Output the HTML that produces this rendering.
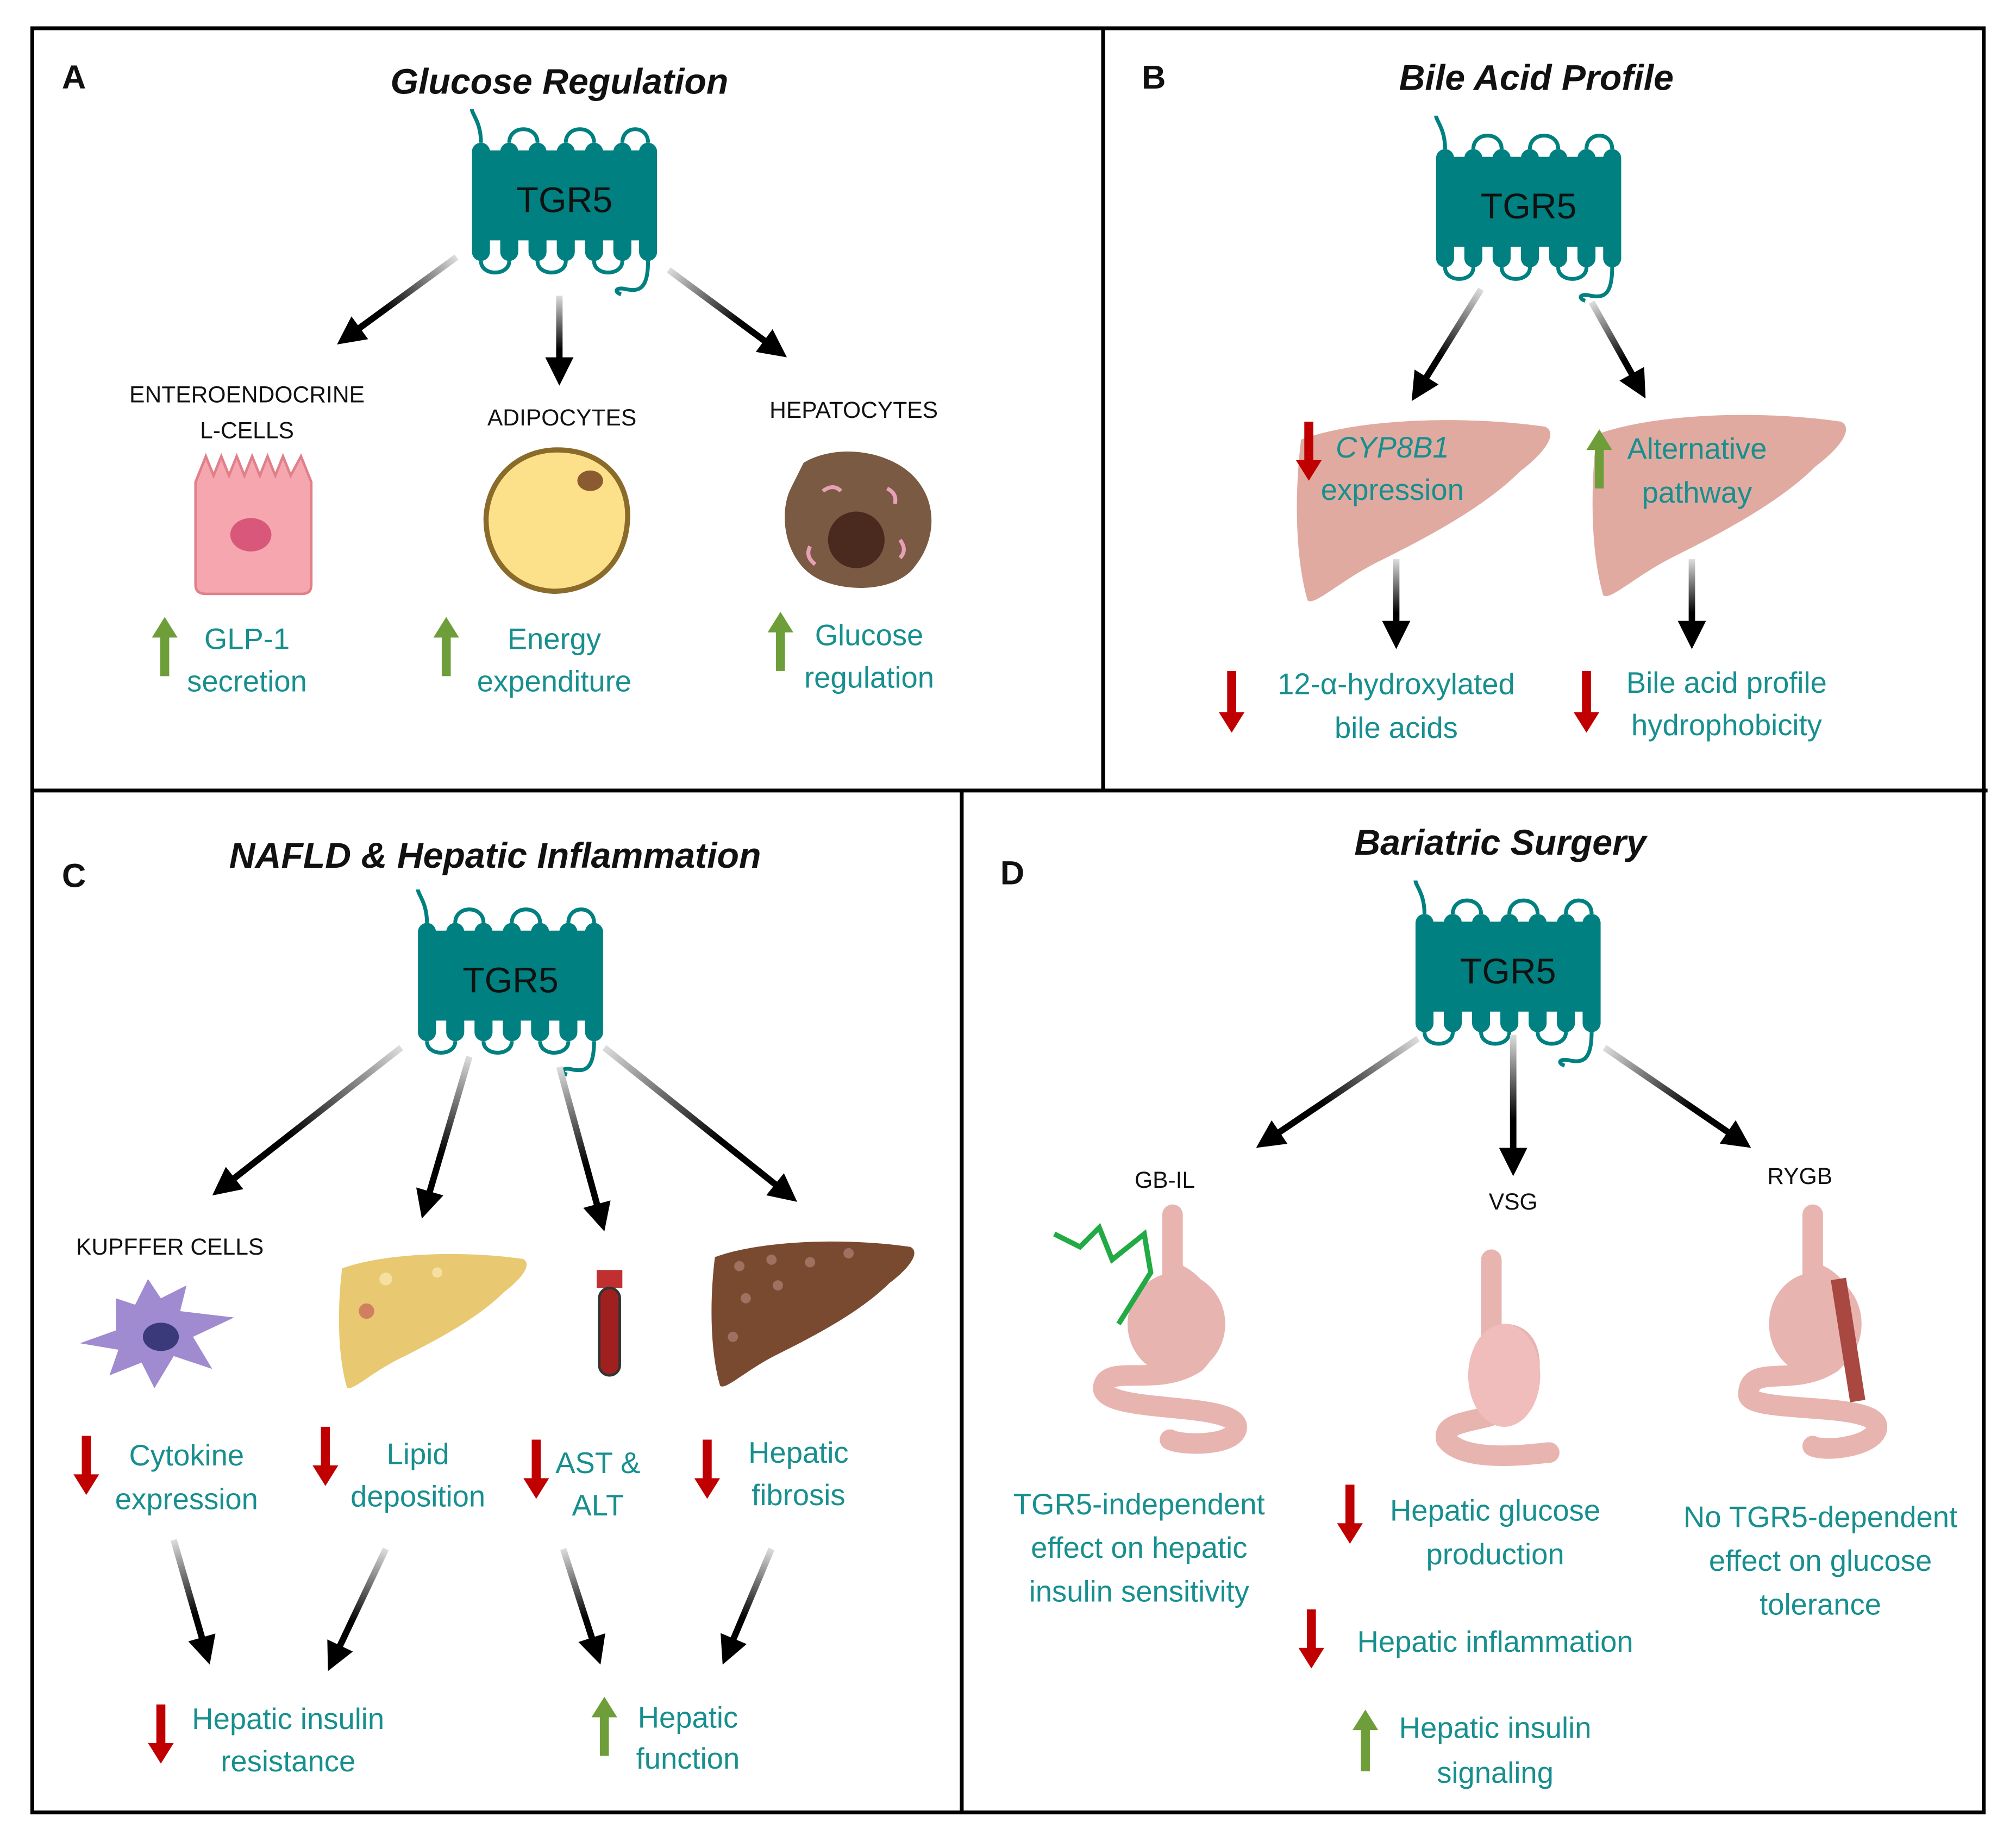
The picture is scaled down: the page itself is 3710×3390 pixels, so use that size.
<!DOCTYPE html>
<html><head><meta charset="utf-8">
<style>
html,body{margin:0;padding:0;background:#fff;}
svg{display:block;}
text{font-family:"Liberation Sans",sans-serif;}
.t{fill:#188f8f;font-size:23px;text-anchor:middle;}
.h{font-weight:bold;font-style:italic;font-size:28px;text-anchor:middle;fill:#111;}
.l{font-weight:bold;font-size:26px;fill:#111;}
.s{font-size:18px;text-anchor:middle;fill:#111;}
</style></head>
<body>
<svg id="sv" width="3710" height="3390" viewBox="0 0 1568 1433" xmlns="http://www.w3.org/2000/svg">
<defs>
<g id="tgr">
<rect x="-62" y="-38" width="124" height="70" fill="#008080"/>
<g fill="#008080">
<rect x="-70" y="-44" width="14" height="92" rx="7"/>
<rect x="-48" y="-44" width="14" height="92" rx="7"/>
<rect x="-26" y="-44" width="14" height="92" rx="7"/>
<rect x="-4" y="-44" width="14" height="92" rx="7"/>
<rect x="18" y="-44" width="14" height="92" rx="7"/>
<rect x="40" y="-44" width="14" height="92" rx="7"/>
<rect x="60" y="-44" width="14" height="92" rx="7"/>
</g>
<g fill="none" stroke="#008080" stroke-width="3">
<path d="M-63,-44 C-63,-60 -70,-66 -70,-70 M-41,-44 C-41,-58 -19,-58 -19,-44 M3,-44 C3,-58 25,-58 25,-44 M47,-44 C47,-58 67,-58 67,-44"/>
<path d="M-63,48 C-63,60 -41,60 -41,48 M-19,48 C-19,60 3,60 3,48 M25,48 C25,60 47,60 47,48 M67,48 C67,70 60,72 50,70 C42,68 40,72 46,74"/>
</g>
<text x="2" y="10" font-size="28" text-anchor="middle" fill="#111">TGR5</text>
</g>
<path id="liv" d="M0,20 C40,5 120,0 190,10 C200,15 190,30 170,45 C140,75 90,100 60,115 C30,130 10,150 5,145 C-5,110 -5,60 0,20 Z"/>
</defs>
<g id="g">
<rect x="25" y="22" width="1518" height="1388" fill="none" stroke="#000" stroke-width="3"/>
<line x1="25" y1="615" x2="1546" y2="615" stroke="#000" stroke-width="3"/>
<line x1="858" y1="22" x2="858" y2="615" stroke="#000" stroke-width="3"/>
<line x1="748" y1="615" x2="748" y2="1410" stroke="#000" stroke-width="3"/>

<text class="l" x="48" y="69">A</text>
<text class="l" x="888" y="69">B</text>
<text class="l" x="48" y="690">C</text>
<text class="l" x="778" y="688">D</text>
<text class="h" x="435" y="73">Glucose Regulation</text>
<text class="h" x="1195" y="70">Bile Acid Profile</text>
<text class="h" x="385" y="675">NAFLD &amp; Hepatic Inflammation</text>
<text class="h" x="1167" y="665">Bariatric Surgery</text>

<use href="#tgr" x="437" y="155"/>
<use href="#tgr" x="1187" y="160"/>
<use href="#tgr" x="395" y="762"/>
<use href="#tgr" x="1171" y="755"/>

<text class="s" x="192" y="313">ENTEROENDOCRINE</text>
<text class="s" x="192" y="341">L-CELLS</text>
<text class="s" x="437" y="331">ADIPOCYTES</text>
<text class="s" x="664" y="325">HEPATOCYTES</text>
<text class="s" x="132" y="976">KUPFFER CELLS</text>
<text class="s" x="906" y="924">GB-IL</text>
<text class="s" x="1177" y="941">VSG</text>
<text class="s" x="1400" y="921">RYGB</text>

<path d="M152,375 L160,355 L166,370 L172,355 L178,370 L184,355 L190,370 L196,355 L202,370 L208,355 L214,370 L220,355 L226,370 L234,355 L242,375 L242,455 Q242,462 235,462 L160,462 Q152,462 152,455 Z" fill="#f6a6ae" stroke="#e0808a" stroke-width="2"/>
<ellipse cx="195" cy="416" rx="16" ry="13" fill="#d9577a"/>
<path d="M433,350 C470,350 490,375 488,405 C486,440 460,460 430,460 C395,458 377,430 378,402 C380,370 405,350 433,350 Z" fill="#fde08a" stroke="#8a6b2a" stroke-width="4"/>
<ellipse cx="459" cy="374" rx="10" ry="8" fill="#8a5a30"/>
<path d="M625,360 C650,345 690,350 710,370 C730,390 728,420 712,440 C700,458 665,462 640,452 C610,440 605,400 615,380 Z" fill="#7a5a42"/>
<circle cx="666" cy="420" r="22" fill="#4a2a1e"/>
<path d="M640,382 q8,-6 14,0 M690,380 q8,4 6,12 M700,420 q6,8 0,14 M630,425 q-4,8 4,14" stroke="#e8a0b8" stroke-width="3" fill="none"/>

<use href="#liv" x="1012" y="322" fill="#e0aaa0"/>
<use href="#liv" x="1242" y="318" fill="#e0aaa0"/>

<path d="M90,1010 L105,1015 L115,995 L125,1010 L145,1000 L140,1020 L182,1025 L150,1040 L165,1065 L135,1055 L120,1080 L110,1060 L85,1070 L92,1050 L62,1045 L90,1035 Z" fill="#a08ad0"/>
<ellipse cx="125" cy="1040" rx="14" ry="11" fill="#3a3a7a"/>
<use href="#liv" transform="translate(266,972) scale(0.74)" fill="#e8c870"/>
<circle cx="300" cy="995" r="5" fill="#f5e0a0"/><circle cx="340" cy="990" r="4" fill="#f5e0a0"/><circle cx="285" cy="1020" r="6" fill="#d08060"/>
<rect x="464" y="988" width="20" height="14" fill="#c03030"/>
<rect x="466" y="1002" width="16" height="68" rx="8" fill="#a02020" stroke="#333" stroke-width="2"/>
<use href="#liv" transform="translate(556,962) scale(0.8)" fill="#7a4a30"/>
<g fill="#a07060"><circle cx="575" cy="985" r="4"/><circle cx="600" cy="980" r="4"/><circle cx="630" cy="982" r="4"/><circle cx="580" cy="1010" r="4"/><circle cx="605" cy="1000" r="4"/><circle cx="570" cy="1040" r="4"/><circle cx="660" cy="975" r="4"/></g>

<g fill="none" stroke="#e8b4b0" stroke-width="16" stroke-linecap="round">
<path d="M912,945 L912,990 C940,1000 950,1040 930,1060 C900,1080 860,1060 858,1080 C860,1100 960,1090 962,1110 C962,1125 920,1125 910,1120"/>
<path d="M1160,980 L1160,1040 C1190,1030 1195,1060 1185,1085 C1170,1110 1120,1100 1125,1120 C1140,1140 1200,1130 1205,1130"/>
<path d="M1410,945 L1410,990 C1440,1000 1445,1040 1425,1060 C1395,1080 1360,1060 1360,1085 C1360,1100 1460,1090 1460,1110 C1460,1125 1420,1130 1410,1125"/>
</g>
<ellipse cx="915" cy="1030" rx="38" ry="40" fill="#e8b4b0"/>
<ellipse cx="1170" cy="1070" rx="28" ry="40" fill="#f0bcbc"/>
<ellipse cx="1412" cy="1030" rx="36" ry="40" fill="#e8b4b0"/>
<path d="M1430,995 L1445,1090" stroke="#a84840" stroke-width="12"/>
<path d="M820,960 l20,10 l15,-15 l10,25 l25,-20 l5,30 l-25,40" stroke="#22aa44" stroke-width="4" fill="none"/>

<g class="t">
<text class="t" x="192" y="505">GLP-1</text><text class="t" x="192" y="538">secretion</text>
<text class="t" x="431" y="505">Energy</text><text class="t" x="431" y="538">expenditure</text>
<text class="t" x="676" y="502">Glucose</text><text class="t" x="676" y="535">regulation</text>
<text class="t" x="1083" y="356" font-style="italic">CYP8B1</text><text class="t" x="1083" y="389">expression</text>
<text class="t" x="1320" y="357">Alternative</text><text class="t" x="1320" y="391">pathway</text>
<text class="t" x="1086" y="540">12-α-hydroxylated</text><text class="t" x="1086" y="574">bile acids</text>
<text class="t" x="1343" y="539">Bile acid profile</text><text class="t" x="1343" y="572">hydrophobicity</text>
<text class="t" x="145" y="1140">Cytokine</text><text class="t" x="145" y="1174">expression</text>
<text class="t" x="325" y="1139">Lipid</text><text class="t" x="325" y="1172">deposition</text>
<text class="t" x="465" y="1146">AST &amp;</text><text class="t" x="465" y="1179">ALT</text>
<text class="t" x="621" y="1138">Hepatic</text><text class="t" x="621" y="1171">fibrosis</text>
<text class="t" x="224" y="1345">Hepatic insulin</text><text class="t" x="224" y="1378">resistance</text>
<text class="t" x="535" y="1344">Hepatic</text><text class="t" x="535" y="1376">function</text>
<text class="t" x="886" y="1178">TGR5-independent</text><text class="t" x="886" y="1212">effect on hepatic</text><text class="t" x="886" y="1246">insulin sensitivity</text>
<text class="t" x="1163" y="1183">Hepatic glucose</text><text class="t" x="1163" y="1217">production</text>
<text class="t" x="1163" y="1285">Hepatic inflammation</text>
<text class="t" x="1163" y="1352">Hepatic insulin</text><text class="t" x="1163" y="1387">signaling</text>
<text class="t" x="1416" y="1188">No TGR5-dependent</text><text class="t" x="1416" y="1222">effect on glucose</text><text class="t" x="1416" y="1256">tolerance</text>
</g>
</g>
</svg>
<script>
var sv=document.getElementById('g'),NS='http://www.w3.org/2000/svg',defs=document.querySelector('defs');
var A=[[355,200,262,268],[435,230,435,300],[520,210,612,278],[1152,225,1098,312],[1238,235,1280,310],[1086,435,1086,505],[1316,435,1316,505],
[312,815,165,930],[365,822,328,948],[435,830,470,958],[470,815,620,935],[135,1198,163,1295],[300,1205,255,1300],[438,1205,467,1295],[600,1205,562,1295],
[1103,808,977,893],[1177,805,1177,915],[1248,815,1362,893]];
A.forEach(function(a,i){var g=document.createElementNS(NS,'linearGradient');g.id='gr'+i;g.setAttribute('gradientUnits','userSpaceOnUse');
g.setAttribute('x1',a[0]);g.setAttribute('y1',a[1]);g.setAttribute('x2',a[2]);g.setAttribute('y2',a[3]);
g.innerHTML='<stop offset="0" stop-color="#ddd"/><stop offset="0.6" stop-color="#000"/>';defs.appendChild(g);
var dx=a[2]-a[0],dy=a[3]-a[1],L=Math.hypot(dx,dy),ux=dx/L,uy=dy/L;
var l=document.createElementNS(NS,'line');l.setAttribute('x1',a[0]);l.setAttribute('y1',a[1]);l.setAttribute('x2',a[2]-ux*14);l.setAttribute('y2',a[3]-uy*14);
l.setAttribute('stroke','url(#gr'+i+')');l.setAttribute('stroke-width',5);sv.appendChild(l);
var p=document.createElementNS(NS,'path'),px=-uy,py=ux,bx=a[2]-ux*22,by=a[3]-uy*22;
p.setAttribute('d','M'+a[2]+','+a[3]+' L'+(bx+px*11)+','+(by+py*11)+' L'+(bx-px*11)+','+(by-py*11)+'Z');sv.appendChild(p);});
var C=[[128,480,526,1],[347,480,526,1],[607,476,522,1],[1018,328,374,0],[1244,334,380,1],[958,522,570,0],[1234,522,570,0],
[67,1117,1163,0],[253,1110,1156,0],[417,1120,1166,0],[550,1120,1166,0],[125,1326,1372,0],[470,1320,1366,1],
[1050,1155,1201,0],[1020,1252,1298,0],[1062,1330,1378,1]];
C.forEach(function(c){var x=c[0],t=c[1],b=c[2],p=document.createElementNS(NS,'path'),d;
if(c[3]){d='M'+x+','+t+' L'+(x+10)+','+(t+16)+' L'+(x+3.5)+','+(t+16)+' L'+(x+3.5)+','+b+' L'+(x-3.5)+','+b+' L'+(x-3.5)+','+(t+16)+' L'+(x-10)+','+(t+16)+'Z';p.setAttribute('fill','#6e9e3a');}
else{d='M'+x+','+b+' L'+(x+10)+','+(b-16)+' L'+(x+3.5)+','+(b-16)+' L'+(x+3.5)+','+t+' L'+(x-3.5)+','+t+' L'+(x-3.5)+','+(b-16)+' L'+(x-10)+','+(b-16)+'Z';p.setAttribute('fill','#c00000');}
p.setAttribute('d',d);sv.appendChild(p);});
</script>
</body></html>
